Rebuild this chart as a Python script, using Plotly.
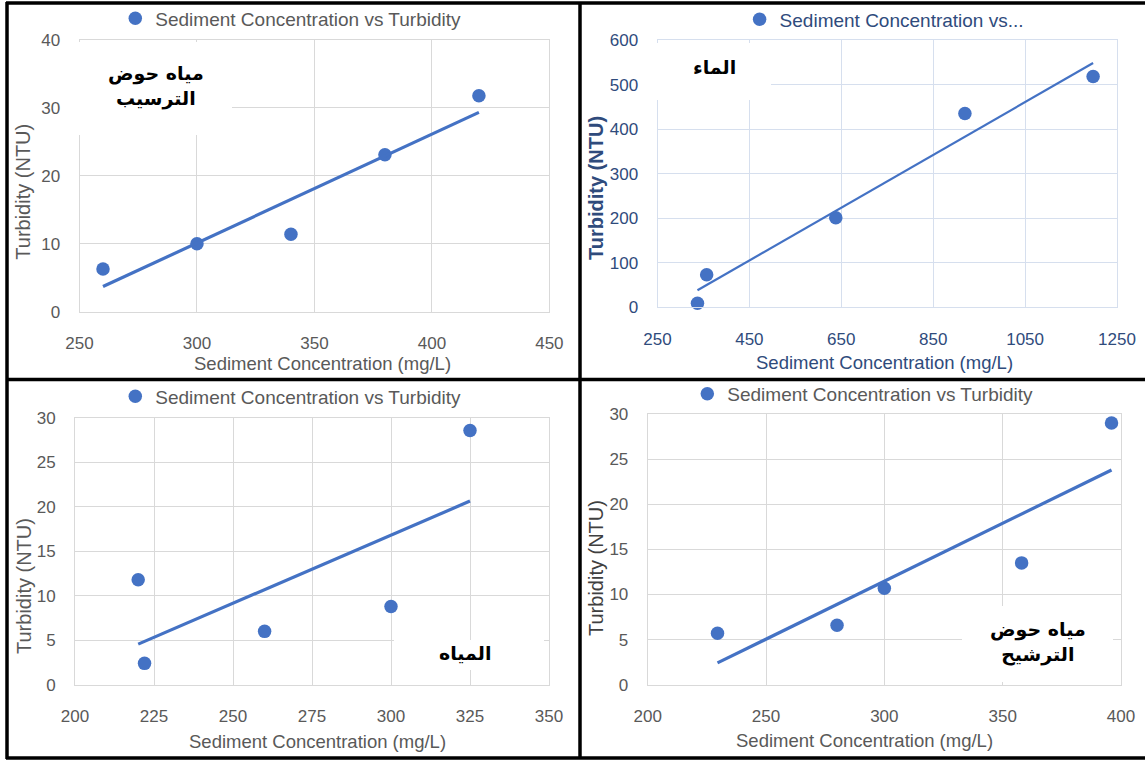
import numpy as np
import plotly.graph_objects as go

W, H = 1145, 760

# ---------------- data ----------------
legend_name = "Sediment Concentration vs Turbidity"
legend_name_short = "Sediment Concentration vs..."
x_title = "Sediment Concentration (mg/L)"
y_title = "Turbidity (NTU)"

p1_x = [260, 300, 340, 380, 420]
p1_y = [6.3, 10.0, 11.4, 23.1, 31.8]
p1_label = "مياه حوض<br>الترسيب"

p2_x = [337, 357, 638, 919, 1198]
p2_y = [9, 73, 201, 435, 518]
p2_label = "الماء"

p3_x = [220, 222, 260, 300, 325]
p3_y = [11.8, 2.4, 6.0, 8.8, 28.6]
p3_label = "المياه"

p4_x = [229.5, 280, 300, 358, 396]
p4_y = [5.7, 6.6, 10.7, 13.5, 29.0]
p4_label = "مياه حوض<br>الترشيح"

BLUE = "#4472C4"
GRAY = "#595959"
NAVY = "#2F4B7C"
GRID = "#D9D9D9"
GRID2 = "#D6DFEE"
FONT = "Liberation Sans, Arial, sans-serif"
AR_FONT = "DejaVu Sans, Noto Sans, sans-serif"


def px(x):
    return x / W


def py(y):
    return 1 - y / H


panels = [
    dict(x=p1_x, y=p1_y, xr=[250, 450], xt=list(range(250, 451, 50)),
         yr=[0, 40], yt=list(range(0, 41, 10)),
         box=(79.5, 549.4, 40, 311.7), col=GRAY, grid=GRID, lw=3.2,
         leg=(141.3, 18.3), name=legend_name,
         xtitle=(322, 363.5), ytitle=(23, 191.7), ycol=GRAY,
         label=p1_label, lab=(156, 86),
         wbox=(76, 232, 42, 135)),
    dict(x=p2_x, y=p2_y, xr=[250, 1250], xt=list(range(250, 1251, 200)),
         yr=[0, 600], yt=list(range(0, 601, 100)),
         box=(657.5, 1117, 40, 307.3), col=NAVY, grid=GRID2, lw=2.2,
         leg=(765.6, 19.3), name=legend_name_short,
         xtitle=(884.5, 362.5), ytitle=(596, 188), ycol=NAVY,
         label=p2_label, lab=(714, 67),
         wbox=(654, 771, 43, 100)),
    dict(x=p3_x, y=p3_y, xr=[200, 350], xt=list(range(200, 351, 25)),
         yr=[0, 30], yt=list(range(0, 31, 5)),
         box=(75, 549, 418, 684.7), col=GRAY, grid=GRID, lw=3.2,
         leg=(141.3, 396.3), name=legend_name,
         xtitle=(317, 741.5), ytitle=(24, 586), ycol=GRAY,
         label=p3_label, lab=(465, 653),
         wbox=(394, 544, 640, 670)),
    dict(x=p4_x, y=p4_y, xr=[200, 400], xt=list(range(200, 401, 50)),
         yr=[0, 30], yt=list(range(0, 31, 5)),
         box=(647.7, 1121, 414, 684.7), col=GRAY, grid=GRID, lw=3.2,
         leg=(713.3, 394), name=legend_name,
         xtitle=(864.7, 740.5), ytitle=(596, 568), ycol="#404040",
         label=p4_label, lab=(1038, 642),
         wbox=(962, 1113, 606, 682)),
]

fig = go.Figure()
layout = dict(
    width=W, height=H,
    margin=dict(l=0, r=0, t=0, b=0, autoexpand=False),
    paper_bgcolor="white", plot_bgcolor="white",
    font=dict(family=FONT, color=GRAY),
    showlegend=True,
)
shapes = []
annotations = []

for i, p in enumerate(panels, start=1):
    sfx = "" if i == 1 else str(i)
    xa, ya = "x" + sfx, "y" + sfx
    legkey = "legend" + sfx
    x0, x1, y0, y1 = p["box"]

    fig.add_trace(go.Scatter(
        x=p["x"], y=p["y"], mode="markers", name=p["name"],
        marker=dict(color=BLUE, size=13.5), xaxis=xa, yaxis=ya,
        legend=legkey, cliponaxis=False,
    ))
    slope, icpt = np.polyfit(p["x"], p["y"], 1)
    tx = np.array([min(p["x"]), max(p["x"])])
    fig.add_trace(go.Scatter(
        x=tx, y=slope * tx + icpt, mode="lines", showlegend=False,
        line=dict(color=BLUE, width=p["lw"]), xaxis=xa, yaxis=ya,
        hoverinfo="skip",
    ))

    axcommon = dict(showgrid=True, gridcolor=p["grid"], gridwidth=1,
                    showline=True, linecolor=p["grid"], linewidth=1,
                    mirror=True, zeroline=False, ticks="", automargin=False,
                    tickfont=dict(size=17, color=p["col"], family=FONT))
    layout["xaxis" + sfx] = dict(
        axcommon, domain=[px(x0), px(x1)], range=p["xr"],
        tickvals=p["xt"], anchor=ya, ticklabelstandoff=16)
    layout["yaxis" + sfx] = dict(
        axcommon, domain=[py(y1), py(y0)], range=p["yr"],
        tickvals=p["yt"], anchor=xa, ticklabelstandoff=15)

    lx, ly = p["leg"]
    layout[legkey] = dict(
        x=px(lx - 26), y=py(ly), xanchor="left", yanchor="middle",
        bgcolor="rgba(0,0,0,0)", borderwidth=0,
        font=dict(size=19, color=p["col"], family=FONT),
        itemwidth=30,
    )

    annotations.append(dict(
        text=x_title, x=px(p["xtitle"][0]), y=py(p["xtitle"][1]),
        xref="paper", yref="paper", showarrow=False,
        xanchor="center", yanchor="middle",
        font=dict(size=18.5, color=p["col"], family=FONT)))
    annotations.append(dict(
        text=(f"<b>{y_title}</b>" if i == 2 else y_title),
        x=px(p["ytitle"][0]), y=py(p["ytitle"][1]),
        xref="paper", yref="paper", showarrow=False, textangle=-90,
        xanchor="center", yanchor="middle",
        font=dict(size=20, color=p["ycol"], family=FONT)))

    bx0, bx1, by0, by1 = p["wbox"]
    shapes.append(dict(type="rect", xref="paper", yref="paper",
                       x0=px(bx0), x1=px(bx1), y0=py(by1), y1=py(by0),
                       fillcolor="white", line=dict(width=0), layer="above"))
    annotations.append(dict(
        text=f"<b>{p['label']}</b>", x=px(p["lab"][0]), y=py(p["lab"][1]),
        xref="paper", yref="paper", showarrow=False,
        xanchor="center", yanchor="middle",
        font=dict(size=19, color="black", family=AR_FONT)))

BW = 3.5
border_lines = [
    (6, 3, 1145, 3), (7, 2, 7, 759), (6, 758, 1145, 758),
    (580, 2, 580, 758), (6, 379.5, 1145, 379.5),
]
for (ax0, ay0, ax1, ay1) in border_lines:
    shapes.append(dict(type="line", xref="paper", yref="paper",
                       x0=px(ax0), y0=py(ay0), x1=px(ax1), y1=py(ay1),
                       line=dict(color="black", width=BW), layer="above"))

layout["shapes"] = shapes
layout["annotations"] = annotations
fig.update_layout(**layout)
fig.write_html(
    "out.html",
    config={"displayModeBar": False},
    post_script="document.body.style.margin='0px';"
                "document.body.style.overflow='hidden';",
)
